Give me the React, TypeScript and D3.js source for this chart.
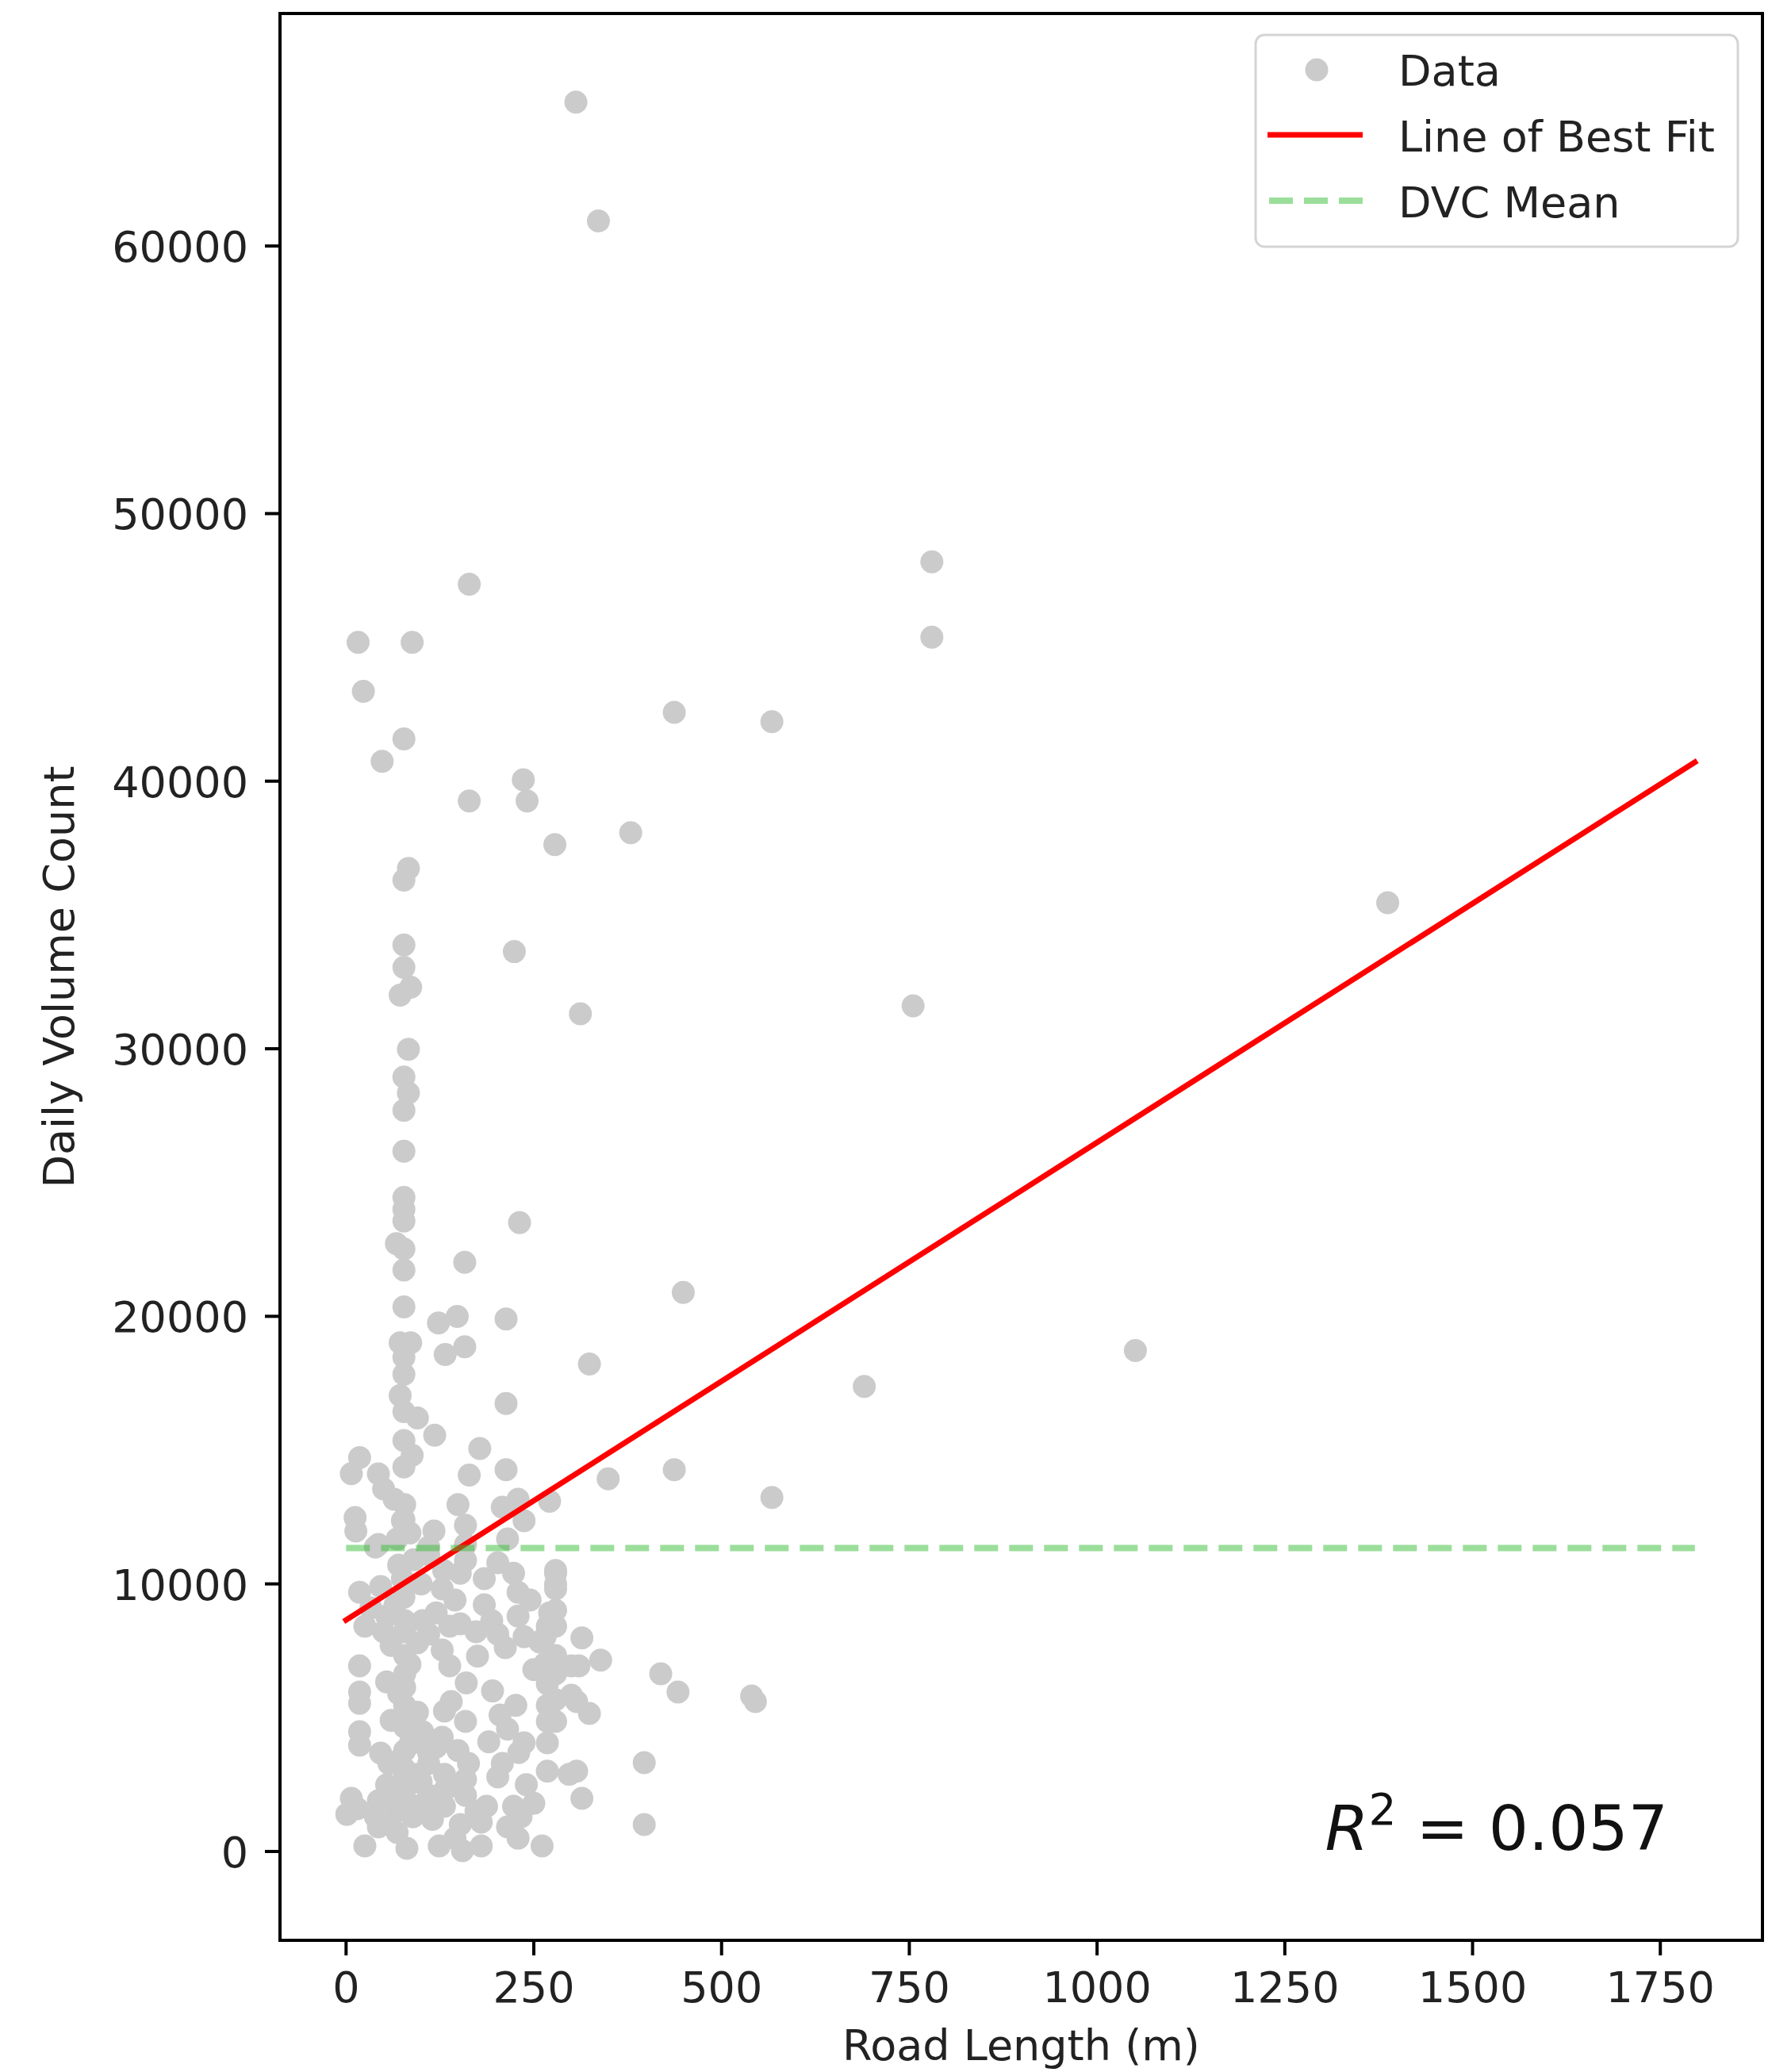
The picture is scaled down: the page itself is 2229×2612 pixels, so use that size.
import React from "react";
import * as d3 from "d3";

// ---- data ----
const roadLength: number[] = [
  306, 336, 780, 164, 16, 88, 780, 23, 437, 567, 77, 48, 236, 164, 241, 379, 278, 83, 77, 1387,
  224, 77, 77, 86, 72, 755, 312, 83, 77, 83, 77, 77, 77, 77, 77, 231, 67, 77, 158, 77,
  449, 77, 148, 213, 123, 72, 86, 158, 1051, 132, 77, 324, 77, 690, 72, 213, 77, 95, 118, 77,
  178, 88, 77, 7, 164, 437, 213, 349, 18, 567, 271,
  43, 50, 64, 78, 75, 149, 12, 13, 117, 159, 208, 229, 237, 43, 68, 110, 110, 159, 215, 279,
  279, 202, 223, 229, 229, 184, 184, 18, 46, 75, 128, 120, 145, 152, 159, 33, 54, 78, 271, 268,
  194, 102, 152, 39, 25, 50, 78, 110, 138, 173, 202, 237, 265, 279,
  18, 18, 18, 54, 78, 78, 128, 138, 212, 258, 265, 268, 268, 300, 300, 18, 18, 78, 78, 131,
  159, 226, 215, 237, 208, 202, 268, 268, 268, 46, 78, 78, 110, 149, 163, 54, 68, 89, 15, 1,
  43, 78, 89, 138, 131, 159, 173, 187, 223, 233, 43, 25, 68, 81, 124, 155, 145, 180, 215, 229,
  261, 102, 78, 57, 92, 128, 110, 96, 131, 110, 78, 131, 159, 180, 152, 107, 68, 39, 7, 297,
  314, 279, 310, 339, 419, 442, 540, 545, 307, 324, 279, 279, 279, 307, 397, 314, 397, 279, 279, 279,
  77, 85, 70, 90, 77, 65, 95, 60, 85, 70, 95, 60, 85, 70, 100, 60, 95, 50, 115, 120,
  140, 160, 175, 195, 205, 190, 240, 250, 230, 250, 245, 130, 100,
];
const dailyVolume: number[] = [
  65380, 60940, 48200, 47360, 45190, 45190, 45380, 43360, 42570, 42220, 41580, 40740, 40050, 39260, 39260, 38070, 37630, 36740, 36300, 35460,
  33630, 33880, 33040, 32300, 32000, 31600, 31310, 29980, 28940, 28350, 27700, 26170, 24440, 24000, 23560, 23500, 22720, 22520, 22020, 21730,
  20890, 20350, 20000, 19900, 19750, 19010, 19010, 18860, 18720, 18570, 18470, 18220, 17830, 17380, 17040, 16740, 16440, 16200, 15560, 15360,
  15060, 14810, 14370, 14120, 14070, 14270, 14270, 13930, 14720, 13230, 13090,
  14110, 13550, 13160, 12960, 12360, 12960, 12480, 11980, 11980, 12190, 12870, 13160, 12360, 11470, 11680, 11380, 11090, 11470, 11680, 10400,
  9810, 10790, 10400, 9690, 8800, 10200, 9220, 9690, 9900, 10200, 9810, 8920, 9400, 10400, 10880, 9100, 8800, 8630, 8920, 8420,
  8630, 8630, 8510, 11380, 8420, 8210, 8210, 8120, 8420, 8210, 8120, 8030, 8030, 8420,
  6940, 5960, 5540, 6340, 7320, 6640, 7530, 6940, 7620, 7830, 7030, 6260, 5460, 6940, 5840, 4480, 3970, 5460, 4650, 5250,
  4860, 5460, 4570, 4060, 3290, 2790, 4860, 4060, 3000, 3680, 3770, 3080, 3680, 3770, 3290, 2490, 2280, 2580, 1600, 1390,
  1900, 1990, 1300, 2490, 1690, 2100, 1510, 1690, 1690, 1300, 920, 210, 710, 120, 210, 30, 500, 210, 920, 500,
  210, 4480, 6140, 3290, 4270, 4270, 3290, 2880, 2880, 2100, 2880, 2280, 2700, 1100, 1010, 1510, 1510, 1300, 1990, 2880,
  7980, 7320, 6940, 7150, 6640, 5960, 5810, 5600, 5600, 5160, 6640, 5670, 4860, 3000, 3320, 1990, 1010, 10500, 9990, 9010,
  12400, 11900, 10700, 10900, 9500, 9200, 7800, 7700, 7000, 5900, 5200, 4900, 4000, 3400, 2600, 1900, 1700, 1100, 1200, 3900,
  5600, 6300, 7300, 6000, 5100, 4100, 2500, 1800, 3700, 6800, 9400, 10500, 10000,
];
const fitLine: { x: number; y: number }[] = [
  { x: 0, y: 8650 },
  { x: 1796, y: 40710 },
];
const dvcMean = 11340;
const meanRange = [0, 1796];
const xTicks = [0, 250, 500, 750, 1000, 1250, 1500, 1750];
const yTicks = [0, 10000, 20000, 30000, 40000, 50000, 60000];
const legendLabels = ["Data", "Line of Best Fit", "DVC Mean"];
const r2Text = "0.057";
const xLabel = "Road Length (m)";
const yLabel = "Daily Volume Count";

// ---- layout ----
const W = 2229;
const H = 2612;
const L = 353, R = 2222, T = 17, B = 2446;
const FONT = "'DejaVu Sans', sans-serif";
const FS = 54;

export default function App() {
  const x = d3.scaleLinear().domain([-88, 1886]).range([L, R]);
  const y = d3.scaleLinear().domain([-3320, 68690]).range([B, T]);
  const pts = roadLength.map((v, i) => ({ x: v, y: dailyVolume[i] }));
  const line = d3
    .line<{ x: number; y: number }>()
    .x((d) => x(d.x))
    .y((d) => y(d.y));
  const meanPts = meanRange.map((v) => ({ x: v, y: dvcMean }));

  const ptColor = "#cbcbcb";
  const green = "rgb(55,190,55)";

  return (
    <svg
      width={W}
      height={H}
      style={{ position: "absolute", left: 0, top: 0, background: "#fff" }}
      fontFamily={FONT}
    >
      <rect x={0} y={0} width={W} height={H} fill="#fff" />
      <defs>
        <clipPath id="plotclip">
          <rect x={L} y={T} width={R - L} height={B - T} />
        </clipPath>
      </defs>
      <g clipPath="url(#plotclip)">
        {pts.map((p, i) => (
          <circle key={i} cx={x(p.x)} cy={y(p.y)} r={14.5} fill={ptColor} />
        ))}
        <path d={line(fitLine) || ""} stroke="#ff0000" strokeWidth={7} fill="none" strokeLinecap="square" />
        <path
          d={line(meanPts) || ""}
          stroke={green}
          strokeOpacity={0.5}
          strokeWidth={8}
          fill="none"
          strokeDasharray="30,14"
        />
      </g>
      {/* spines */}
      <rect x={L} y={T} width={R - L} height={B - T} fill="none" stroke="#000" strokeWidth={4} />
      {/* x ticks */}
      {xTicks.map((t) => (
        <g key={"x" + t}>
          <line x1={x(t)} x2={x(t)} y1={B} y2={B + 19} stroke="#000" strokeWidth={4} />
          <text x={x(t)} y={B + 78} textAnchor="middle" fontSize={FS} fill="#222">
            {String(t)}
          </text>
        </g>
      ))}
      {/* y ticks */}
      {yTicks.map((t) => (
        <g key={"y" + t}>
          <line x1={L - 19} x2={L} y1={y(t)} y2={y(t)} stroke="#000" strokeWidth={4} />
          <text x={L - 40} y={y(t) + 20} textAnchor="end" fontSize={FS} fill="#222">
            {String(t)}
          </text>
        </g>
      ))}
      {/* axis labels */}
      <text x={(L + R) / 2} y={2597} textAnchor="middle" fontSize={FS} fill="#222">
        {xLabel}
      </text>
      <text
        transform={`translate(93,${(T + B) / 2}) rotate(-90)`}
        textAnchor="middle"
        fontSize={FS}
        fill="#222"
      >
        {yLabel}
      </text>
      {/* R^2 */}
      <text x={2103} y={2332} textAnchor="end" fontSize={79} fill="#111">
        <tspan fontStyle="italic">R</tspan>
        <tspan fontSize={55} dy={-32}>2</tspan>
        <tspan dy={32}>{" = " + r2Text}</tspan>
      </text>
      {/* legend */}
      <g>
        <rect
          x={1583}
          y={44}
          width={608}
          height={267}
          rx={11}
          ry={11}
          fill="#fff"
          fillOpacity={0.8}
          stroke="#d4d4d4"
          strokeWidth={3}
        />
        <circle cx={1660} cy={88} r={14.5} fill={ptColor} />
        <line x1={1598} x2={1718} y1={170} y2={170} stroke="#ff0000" strokeWidth={7} />
        <line
          x1={1600}
          x2={1718}
          y1={253}
          y2={253}
          stroke={green}
          strokeOpacity={0.5}
          strokeWidth={8}
          strokeDasharray="30,14"
        />
        {legendLabels.map((lab, i) => (
          <text key={lab} x={1763} y={88 + i * 83 + 20} fontSize={FS} fill="#222">
            {lab}
          </text>
        ))}
      </g>
    </svg>
  );
}
